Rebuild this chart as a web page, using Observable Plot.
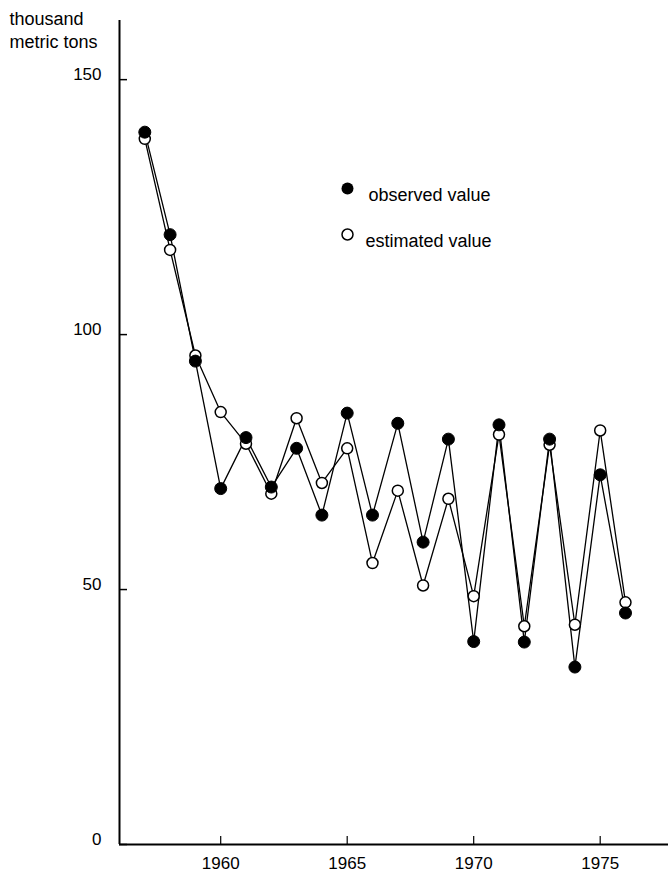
<!DOCTYPE html>
<html>
<head>
<meta charset="utf-8">
<script src="https://cdn.jsdelivr.net/npm/d3@7"></script>
<script src="https://cdn.jsdelivr.net/npm/@observablehq/plot@0.6"></script>
<style>
  html, body { margin: 0; padding: 0; background: #fff; }
  #chart svg { display: block; }
  #chart svg [aria-label$="tick label"] { font-size: 17px; }
  #chart svg [aria-label$="tick label"] text { font-size: 17px; }
</style>
</head>
<body>
<div id="chart"></div>
<script>
const years = [1957,1958,1959,1960,1961,1962,1963,1964,1965,1966,1967,1968,1969,1970,1971,1972,1973,1974,1975,1976];
const observed = [139.7,119.6,94.8,69.8,79.8,70.1,77.7,64.6,84.6,64.6,82.6,59.3,79.5,39.8,82.3,39.7,79.5,34.8,72.5,45.4];
const estimated = [138.4,116.6,95.9,84.8,78.6,68.8,83.6,70.9,77.7,55.2,69.4,50.8,67.8,48.7,80.4,42.8,78.4,43.1,81.2,47.5];
const yTicks = [0,50,100,150];
const xTicks = [1960,1965,1970,1975];
const yTitle = "thousand\nmetric tons";
const legendLabels = ["observed value","estimated value"];

const obs = years.map((y,i) => ({year: y, value: observed[i]}));
const est = years.map((y,i) => ({year: y, value: estimated[i]}));

const font = "'Liberation Sans', Arial, Helvetica, sans-serif";
const W = 670, H = 875, ML = 119, MR = 2, MT = 20, MB = 31;
const tickLen = 8;

const chart = Plot.plot({
  width: W,
  height: H,
  marginLeft: ML,
  marginRight: MR,
  marginTop: MT,
  marginBottom: MB,
  style: {fontFamily: font, fontSize: "17px", color: "#000", background: "#fff"},
  x: {domain: [1956, 1977.7]},
  y: {domain: [0, 161.6]},
  marks: [
    Plot.axisY({ticks: yTicks, tickSize: 0, tickPadding: 18, dy: -5, label: null, fontSize: 17}),
    Plot.axisX({ticks: xTicks, tickSize: 0, tickPadding: 12, tickFormat: d => String(d), label: null, fontSize: 17}),
    Plot.tickY(yTicks, {y: d => d, stroke: "#000", strokeWidth: 1.5, insetRight: (W - ML - MR) - tickLen}),
    Plot.tickX(xTicks, {x: d => d, stroke: "#000", strokeWidth: 1.2, insetTop: (H - MT - MB) - tickLen}),
    Plot.ruleX([1956], {stroke: "#000", strokeWidth: 2}),
    Plot.ruleY([0], {stroke: "#000", strokeWidth: 2}),
    Plot.lineY(est, {x: "year", y: "value", stroke: "#000", strokeWidth: 1.3}),
    Plot.lineY(obs, {x: "year", y: "value", stroke: "#000", strokeWidth: 1.3}),
    Plot.dot(est, {x: "year", y: "value", r: 5.5, fill: "#fff", stroke: "#000", strokeWidth: 1.5}),
    Plot.dot(obs, {x: "year", y: "value", r: 6, fill: "#000", stroke: "#000", strokeWidth: 1}),
    Plot.text([yTitle], {frameAnchor: "top-left", dx: -110, dy: -12, text: d => d, textAnchor: "start", lineAnchor: "top", lineHeight: 1.28, fontSize: 18, fill: "#000"}),
    Plot.dot([legendLabels[0]], {frameAnchor: "top-left", dx: 228, dy: 168, r: 6, fill: "#000"}),
    Plot.text([legendLabels[0]], {frameAnchor: "top-left", dx: 249, dy: 168, text: d => d, textAnchor: "start", fontSize: 18, fill: "#000"}),
    Plot.dot([legendLabels[1]], {frameAnchor: "top-left", dx: 228, dy: 214, r: 5.5, fill: "#fff", stroke: "#000", strokeWidth: 1.5}),
    Plot.text([legendLabels[1]], {frameAnchor: "top-left", dx: 246, dy: 214, text: d => d, textAnchor: "start", fontSize: 18, fill: "#000"})
  ]
});
document.getElementById("chart").appendChild(chart);
</script>
</body>
</html>
